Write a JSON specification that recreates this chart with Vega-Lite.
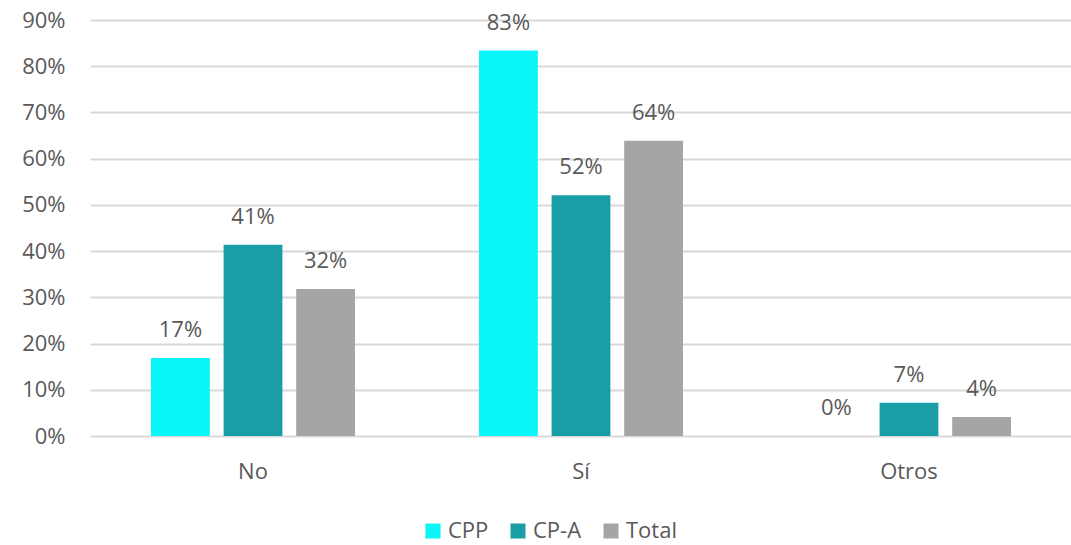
{
  "$schema": "https://vega.github.io/schema/vega-lite/v6.json",
  "width": 982,
  "height": 416,
  "autosize": "none",
  "padding": {"left": 90, "top": 20, "right": 0, "bottom": 109},
  "data": {
    "values": [
      {"cat": "No", "serie": "CPP", "v": 0.169},
      {"cat": "No", "serie": "CP-A", "v": 0.414},
      {"cat": "No", "serie": "Total", "v": 0.318},
      {"cat": "Sí", "serie": "CPP", "v": 0.834},
      {"cat": "Sí", "serie": "CP-A", "v": 0.521},
      {"cat": "Sí", "serie": "Total", "v": 0.639},
      {"cat": "Otros", "serie": "CPP", "v": 0.0},
      {"cat": "Otros", "serie": "CP-A", "v": 0.072},
      {"cat": "Otros", "serie": "Total", "v": 0.041}
    ]
  },
  "encoding": {
    "x": {
      "field": "cat", "type": "nominal", "sort": ["No", "Sí", "Otros"],
      "scale": {"paddingInner": 0.378, "paddingOuter": 0.186},
      "axis": {"title": null, "labelAngle": 0, "domain": false, "ticks": false, "labelFontSize": 22, "labelColor": "#595959", "labelFont": "Open Sans", "labelPadding": 25, "grid": false}
    },
    "xOffset": {"field": "serie", "type": "nominal", "sort": ["CPP", "CP-A", "Total"], "scale": {"paddingInner": 0.19}},
    "y": {
      "field": "v", "type": "quantitative",
      "scale": {"domain": [0, 0.9], "nice": false},
      "axis": {"title": null, "format": ".0%", "values": [0, 0.1, 0.2, 0.3, 0.4, 0.5, 0.6, 0.7, 0.8, 0.9], "domain": false, "ticks": false, "labelFontSize": 22, "labelColor": "#595959", "labelFont": "Open Sans", "labelPadding": 25, "gridColor": "#d9d9d9", "gridWidth": 2}
    }
  },
  "layer": [
    {
      "mark": {"type": "bar"},
      "encoding": {
        "color": {
          "field": "serie", "type": "nominal", "sort": ["CPP", "CP-A", "Total"],
          "scale": {"domain": ["CPP", "CP-A", "Total"], "range": ["#0af5f8", "#1a9ea6", "#a5a5a5"]},
          "legend": {"title": null, "orient": "none", "legendX": 332, "legendY": 500, "direction": "horizontal", "symbolType": "square", "symbolSize": 225, "symbolStrokeWidth": 0, "labelFontSize": 22, "labelColor": "#595959", "labelFont": "Open Sans", "columnPadding": 18, "labelOffset": 4}
        }
      }
    },
    {
      "mark": {"type": "text", "dy": -28, "baseline": "middle", "fontSize": 22, "color": "#595959", "font": "Open Sans"},
      "encoding": {
        "text": {"field": "v", "type": "quantitative", "format": ".0%"}
      }
    }
  ],
  "config": {"view": {"stroke": null}}
}
